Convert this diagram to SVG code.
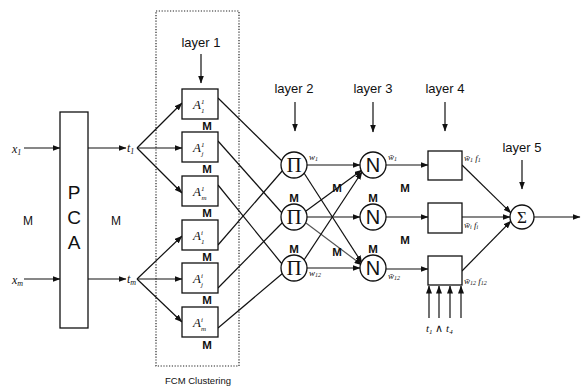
<svg xmlns="http://www.w3.org/2000/svg" width="582" height="387" viewBox="0 0 582 387">
<style>
.ln{stroke:#111;stroke-width:1.2;fill:none}
.dl{stroke:#222;stroke-width:1.2;fill:none;stroke-dasharray:1.2 1.6}
.bx{fill:#fff;stroke:#111;stroke-width:1.3}
.c{fill:#fff;stroke:#111;stroke-width:1.3}
.lab{font-family:"Liberation Sans",Arial,sans-serif;font-size:13px;fill:#111;text-anchor:middle}
.m{font-family:"Liberation Sans",Arial,sans-serif;font-size:11.5px;font-weight:bold;fill:#111;text-anchor:middle}
.it{font-family:"Liberation Serif","Times New Roman",serif;font-style:italic;fill:#111}
.sm{font-family:"Liberation Serif","Times New Roman",serif;font-style:italic;font-size:9px;fill:#111}
.sym{font-family:"Liberation Serif","Times New Roman",serif;fill:#111;text-anchor:middle}
</style>
<defs>
<marker id="ah" markerWidth="8" markerHeight="6" refX="7.5" refY="3" orient="auto" markerUnits="userSpaceOnUse">
<path d="M0,0 L8,3 L0,6 Z" fill="#111"/>
</marker>
</defs>

<g id="fcm-box">
<rect x="156" y="11" width="83" height="355" class="dl"/>
<text x="198" y="384" class="lab" style="font-size:9.5px">FCM Clustering</text>
</g>

<g id="connectors">
<line x1="24" y1="148" x2="60" y2="148" class="ln" marker-end="url(#ah)"/>
<line x1="24" y1="279" x2="60" y2="279" class="ln" marker-end="url(#ah)"/>
<line x1="88" y1="148" x2="126" y2="148" class="ln" marker-end="url(#ah)"/>
<line x1="88" y1="279" x2="126" y2="279" class="ln" marker-end="url(#ah)"/>
<line x1="137" y1="148" x2="182" y2="103" class="ln" marker-end="url(#ah)"/>
<line x1="137" y1="148" x2="182" y2="148" class="ln" marker-end="url(#ah)"/>
<line x1="137" y1="148" x2="182" y2="193" class="ln" marker-end="url(#ah)"/>
<line x1="137" y1="279" x2="182" y2="236" class="ln" marker-end="url(#ah)"/>
<line x1="137" y1="279" x2="182" y2="279" class="ln" marker-end="url(#ah)"/>
<line x1="137" y1="279" x2="182" y2="322" class="ln" marker-end="url(#ah)"/>
<line x1="201" y1="54" x2="201" y2="83" class="ln" marker-end="url(#ah)"/>
<line x1="295" y1="102" x2="295" y2="131" class="ln" marker-end="url(#ah)"/>
<line x1="373" y1="102" x2="373" y2="132" class="ln" marker-end="url(#ah)"/>
<line x1="445" y1="102" x2="445" y2="131" class="ln" marker-end="url(#ah)"/>
<line x1="522" y1="160" x2="522" y2="189" class="ln" marker-end="url(#ah)"/>
<line x1="218" y1="98" x2="282" y2="161" class="ln"/>
<line x1="218" y1="141" x2="282" y2="213" class="ln"/>
<line x1="218" y1="185" x2="282" y2="264" class="ln"/>
<line x1="218" y1="245" x2="283" y2="170" class="ln"/>
<line x1="218" y1="288" x2="283" y2="222" class="ln"/>
<line x1="218" y1="328" x2="283" y2="273" class="ln"/>
<line x1="307" y1="165" x2="360" y2="165" class="ln" marker-end="url(#ah)"/>
<line x1="304" y1="173" x2="362" y2="263" class="ln" marker-end="url(#ah)"/>
<line x1="306" y1="211" x2="362" y2="170" class="ln" marker-end="url(#ah)"/>
<line x1="307" y1="217" x2="360" y2="217" class="ln" marker-end="url(#ah)"/>
<line x1="306" y1="223" x2="362" y2="265" class="ln" style="stroke:#555" marker-end="url(#ah)"/>
<line x1="304" y1="260" x2="362" y2="172" class="ln" marker-end="url(#ah)"/>
<line x1="307" y1="268" x2="360" y2="268" class="ln" marker-end="url(#ah)"/>
<line x1="386" y1="165" x2="428" y2="165" class="ln" marker-end="url(#ah)"/>
<line x1="386" y1="217" x2="428" y2="217" class="ln" marker-end="url(#ah)"/>
<line x1="386" y1="269" x2="428" y2="269" class="ln" marker-end="url(#ah)"/>
<line x1="462" y1="165" x2="511" y2="213" class="ln" marker-end="url(#ah)"/>
<line x1="462" y1="217" x2="510" y2="217" class="ln" marker-end="url(#ah)"/>
<line x1="462" y1="271" x2="511" y2="221" class="ln" marker-end="url(#ah)"/>
<line x1="534" y1="217" x2="580" y2="217" class="ln" marker-end="url(#ah)"/>
<line x1="429" y1="318" x2="429" y2="286" class="ln" marker-end="url(#ah)"/>
<line x1="439" y1="318" x2="439" y2="286" class="ln" marker-end="url(#ah)"/>
<line x1="450" y1="318" x2="450" y2="286" class="ln" marker-end="url(#ah)"/>
<line x1="461" y1="318" x2="461" y2="286" class="ln" marker-end="url(#ah)"/>
</g>

<g id="input-x1"><text x="12" y="153" class="it" font-size="12">x<tspan font-size="8" dy="2">1</tspan></text></g>
<g id="input-xm"><text x="12" y="284" class="it" font-size="12">x<tspan font-size="8" dy="2">m</tspan></text></g>
<text x="28" y="225" class="lab" style="font-size:12px">M</text>

<g id="pca">
<rect x="60" y="112" width="28" height="216" class="bx"/>
<text x="74" y="199" class="lab" style="font-size:19px">P</text>
<text x="74" y="224" class="lab" style="font-size:19px">C</text>
<text x="74" y="249" class="lab" style="font-size:19px">A</text>
</g>
<text x="116" y="225" class="lab" style="font-size:12px">M</text>

<g id="t1"><text x="127" y="152" class="it" font-size="12">t<tspan font-size="8" dy="2">1</tspan></text></g>
<g id="tm"><text x="127" y="283" class="it" font-size="12">t<tspan font-size="8" dy="2">m</tspan></text></g>

<text x="201" y="47" class="lab">layer 1</text>
<g id="A11"><rect x="182" y="89" width="36" height="30" class="bx"/><text x="193" y="109" class="it" font-size="13">A<tspan font-size="7" dy="-5">1</tspan><tspan font-size="7" dx="-3" dy="9">1</tspan></text></g>
<g id="A1j"><rect x="182" y="132" width="36" height="30" class="bx"/><text x="193" y="152" class="it" font-size="13">A<tspan font-size="7" dy="-5">1</tspan><tspan font-size="7" dx="-3" dy="9">j</tspan></text></g>
<g id="A1m"><rect x="182" y="176" width="36" height="30" class="bx"/><text x="193" y="196" class="it" font-size="13">A<tspan font-size="7" dy="-5">1</tspan><tspan font-size="7" dx="-3" dy="9">m</tspan></text></g>
<g id="Ai1"><rect x="182" y="220" width="36" height="30" class="bx"/><text x="193" y="240" class="it" font-size="13">A<tspan font-size="7" dy="-5">i</tspan><tspan font-size="7" dx="-2" dy="9">1</tspan></text></g>
<g id="Aij"><rect x="182" y="263" width="36" height="30" class="bx"/><text x="193" y="283" class="it" font-size="13">A<tspan font-size="7" dy="-5">i</tspan><tspan font-size="7" dx="-2" dy="9">j</tspan></text></g>
<g id="Aim"><rect x="182" y="307" width="36" height="30" class="bx"/><text x="193" y="327" class="it" font-size="13">A<tspan font-size="7" dy="-5">i</tspan><tspan font-size="7" dx="-2" dy="9">m</tspan></text></g>
<text x="207" y="130" class="m">M</text>
<text x="207" y="173" class="m">M</text>
<text x="207" y="217" class="m">M</text>
<text x="207" y="261" class="m">M</text>
<text x="207" y="304" class="m">M</text>
<text x="207" y="349" class="m">M</text>

<text x="294" y="93" class="lab">layer 2</text>
<g id="P1"><circle cx="294" cy="165" r="13" class="c"/><text x="294" y="172" class="sym" font-size="21">Π</text></g>
<g id="P2"><circle cx="294" cy="217" r="13" class="c"/><text x="294" y="224" class="sym" font-size="21">Π</text></g>
<g id="P3"><circle cx="294" cy="268" r="13" class="c"/><text x="294" y="275" class="sym" font-size="21">Π</text></g>
<text x="294" y="202" class="m">M</text>
<text x="294" y="253" class="m">M</text>
<text x="309" y="160" class="sm">w<tspan font-size="6" dy="1">1</tspan></text>
<text x="309" y="276" class="sm">w<tspan font-size="6" dy="1">12</tspan></text>

<text x="373" y="93" class="lab">layer 3</text>
<g id="N1"><circle cx="373" cy="165" r="13" class="c"/><text x="373" y="172" class="lab" style="font-size:20px">N</text></g>
<g id="N2"><circle cx="373" cy="217" r="13" class="c"/><text x="373" y="224" class="lab" style="font-size:20px">N</text></g>
<g id="N3"><circle cx="373" cy="268" r="13" class="c"/><text x="373" y="275" class="lab" style="font-size:20px">N</text></g>
<text x="337" y="192" class="m">M</text>
<text x="373" y="202" class="m">M</text>
<text x="337" y="256" class="m">M</text>
<text x="373" y="253" class="m">M</text>
<text x="405" y="192" class="m">M</text>
<text x="405" y="244" class="m">M</text>
<text x="388" y="160" class="sm">w̄<tspan font-size="6" dy="1">1</tspan></text>
<text x="388" y="279" class="sm">w̄<tspan font-size="6" dy="1">12</tspan></text>

<text x="445" y="93" class="lab">layer 4</text>
<g id="R1"><rect x="428" y="151" width="34" height="29" class="bx"/><text x="464" y="161" class="sm">w̄<tspan font-size="6" dy="1">1</tspan><tspan dy="-1"> f</tspan><tspan font-size="6" dy="1">1</tspan></text></g>
<g id="Ri"><rect x="428" y="203" width="34" height="30" class="bx"/><text x="464" y="228" class="sm">w̄<tspan font-size="6" dy="1">i</tspan><tspan dy="-1"> f</tspan><tspan font-size="6" dy="1">i</tspan></text></g>
<g id="R12"><rect x="428" y="256" width="34" height="29" class="bx"/><text x="464" y="284" class="sm">w̄<tspan font-size="6" dy="1">12</tspan><tspan dy="-1"> f</tspan><tspan font-size="6" dy="1">12</tspan></text></g>
<text x="426" y="332" class="it" font-size="11">t<tspan font-size="7" dy="2">1</tspan><tspan dy="-2" font-style="normal"> ∧ </tspan>t<tspan font-size="7" dy="2">4</tspan></text>

<text x="522" y="152" class="lab">layer 5</text>
<g id="S"><circle cx="522" cy="217" r="12" class="c"/><text x="522" y="223" class="sym" font-size="17">Σ</text></g>
</svg>
